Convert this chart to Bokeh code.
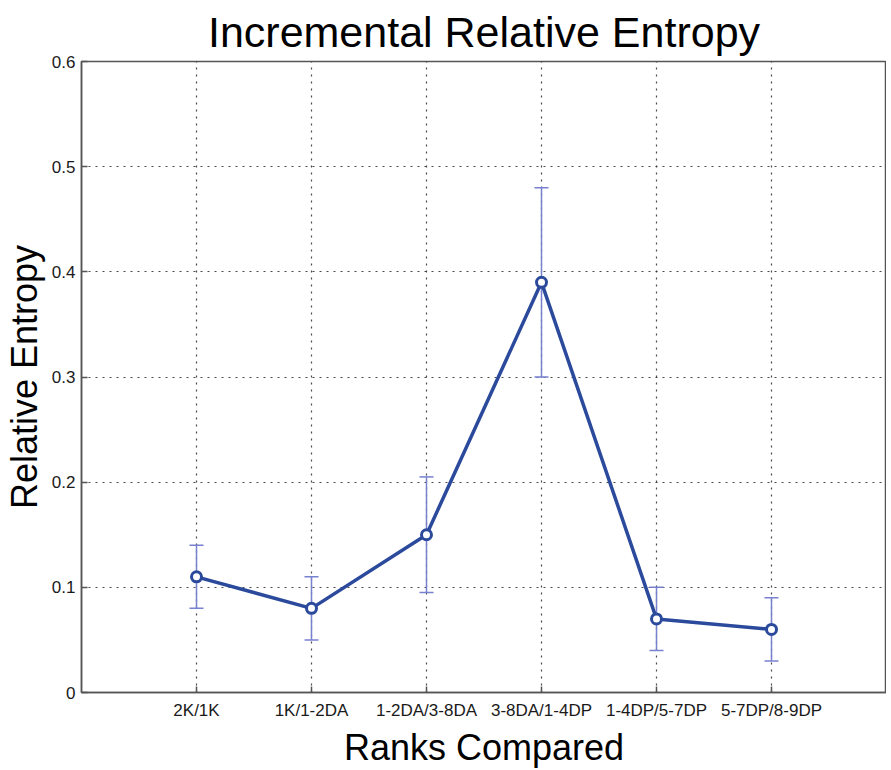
from bokeh.plotting import figure
from bokeh.models import (ColumnDataSource, Whisker, TeeHead, FactorRange, Range1d,
                          FixedTicker)
from bokeh.embed import file_html
from bokeh.resources import INLINE

# ---- data ----
categories = ["2K/1K", "1K/1-2DA", "1-2DA/3-8DA", "3-8DA/1-4DP", "1-4DP/5-7DP", "5-7DP/8-9DP"]
entropy = [0.11, 0.08, 0.15, 0.39, 0.07, 0.06]
err_low = [0.08, 0.05, 0.095, 0.30, 0.04, 0.03]
err_high = [0.14, 0.11, 0.205, 0.48, 0.10, 0.09]
y_ticks = [0, 0.1, 0.2, 0.3, 0.4, 0.5, 0.6]

FONT = "Liberation Sans"
LINE = "#2b4a9c"
ERR = "#7880d0"
AX = "#555555"

src = ColumnDataSource(dict(x=categories, y=entropy, lo=err_low, hi=err_high))

p = figure(
    x_range=FactorRange(factors=categories, range_padding=1/6, range_padding_units="percent"),
    y_range=Range1d(0, 0.6),
    frame_width=805, frame_height=631,
    min_border_left=80, min_border_right=0, min_border_top=53, min_border_bottom=62,
    output_backend="svg", toolbar_location=None,
    title="Incremental Relative Entropy",
)

p.title.text_font = FONT
p.title.text_font_size = "43px"
p.title.text_font_style = "normal"
p.title.align = "center"
p.title.text_color = "black"
p.title.standoff = 11

p.outline_line_color = AX
p.outline_line_width = 1.5

for ax in (p.xaxis[0], p.yaxis[0]):
    ax.axis_line_color = AX
    ax.axis_line_width = 1.5
    ax.major_tick_line_color = AX
    ax.major_tick_line_width = 1.5
    ax.major_tick_in = 6
    ax.major_tick_out = 0
    ax.minor_tick_line_color = None
    ax.major_label_text_font = FONT
    ax.major_label_text_font_size = "17px"
    ax.major_label_text_color = "#1a1a1a"
    ax.axis_label_text_font = FONT
    ax.axis_label_text_font_size = "36px"
    ax.axis_label_text_font_style = "normal"
    ax.axis_label_text_color = "black"

p.xaxis.axis_label = "Ranks Compared"
p.xaxis.major_label_standoff = 8
p.xaxis.axis_label_standoff = 4
p.yaxis.axis_label = "Relative Entropy"
p.yaxis.ticker = FixedTicker(ticks=y_ticks)
p.yaxis.major_label_overrides = {0: "0"}
p.yaxis.major_label_standoff = 6
p.yaxis.axis_label_standoff = 4

for g in (p.xgrid[0], p.ygrid[0]):
    g.grid_line_color = "#2a2a2a"
    g.grid_line_dash = "2 5"
    g.grid_line_width = 1.2
    g.grid_line_alpha = 0.85
p.ygrid.ticker = FixedTicker(ticks=y_ticks)

w = Whisker(source=src, base="x", upper="hi", lower="lo",
            line_color=ERR, line_width=1.5,
            upper_head=TeeHead(size=14, line_color=ERR, line_width=1.5),
            lower_head=TeeHead(size=14, line_color=ERR, line_width=1.5))
p.add_layout(w)

p.line("x", "y", source=src, line_color=LINE, line_width=3.5)
p.scatter("x", "y", source=src, size=10, fill_color="white", line_color=LINE, line_width=3)

open("out.html", "w").write(file_html(p, INLINE))
